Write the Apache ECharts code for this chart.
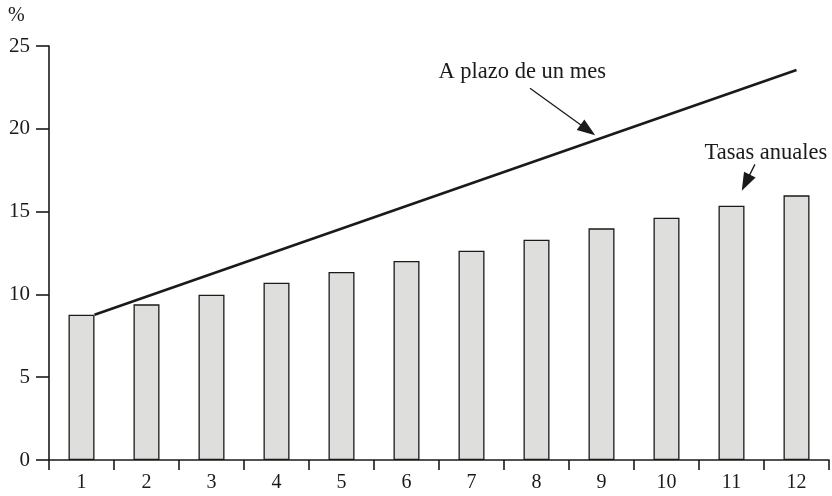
<!DOCTYPE html>
<html>
<head>
<meta charset="utf-8">
<script src="https://cdn.jsdelivr.net/npm/echarts@6/dist/echarts.min.js"></script>
<style>html,body{margin:0;padding:0;background:#fff}#c{width:832px;height:496px}</style>
</head>
<body>
<div id="c"></div>
<script>
const categories = ['1','2','3','4','5','6','7','8','9','10','11','12'];
const annualRates = [8.77, 9.40, 9.98, 10.71, 11.35, 12.02, 12.64, 13.30, 13.99, 14.63, 15.36, 15.98];
// one-month forward line: [x position on category scale, value]
const monthLine = [[0.2, 8.77], [11.0, 23.55]];
const yTicks = { min: 0, max: 25, interval: 5 };
const labelMonth = 'A plazo de un mes';
const labelAnnual = 'Tasas anuales';
const unitLabel = '%';
// annotation anchors in data units [x, y]
const monthText = [6.78, 23.4];
const monthArrow = [[6.9, 22.45], [7.79, 19.93]];
const annualText = [10.53, 18.55];
const annualArrow = [[10.36, 17.85], [10.22, 16.75]];

const FONT = 'Liberation Serif';
const INK = '#1a1a1a';

const chart = echarts.init(document.getElementById('c'), null, {renderer: 'canvas'});
chart.setOption({
  animation: false,
  backgroundColor: '#fff',
  grid: { left: 49, right: 3, top: 46, bottom: 36, containLabel: false },
  xAxis: [
    {
      type: 'category', data: categories, boundaryGap: true,
      axisLine: { lineStyle: { color: INK, width: 1.6 } },
      axisTick: { show: true, length: 10, lineStyle: { color: INK, width: 1.6 } },
      axisLabel: { color: INK, fontFamily: FONT, fontSize: 20, margin: 13 },
      splitLine: { show: false }
    },
    {
      type: 'value', min: -0.5, max: 11.5, show: false
    }
  ],
  yAxis: {
    type: 'value', min: yTicks.min, max: yTicks.max, interval: yTicks.interval,
    axisLine: { show: true, onZero: false, lineStyle: { color: INK, width: 1.6 } },
    axisTick: { show: true, length: 13, lineStyle: { color: INK, width: 1.6 } },
    axisLabel: { color: INK, fontFamily: FONT, fontSize: 21, margin: 19 },
    splitLine: { show: false }
  },
  graphic: [
    { type: 'text', left: 8, top: 6, style: { text: unitLabel, fontFamily: FONT, fontSize: 20, fill: INK } }
  ],
  series: [
    {
      type: 'bar', data: annualRates, barWidth: 26, xAxisIndex: 0,
      itemStyle: { color: '#dededd', borderColor: INK, borderWidth: 1.3 },
      z: 2
    },
    {
      type: 'line', data: monthLine, xAxisIndex: 1, symbol: 'none',
      lineStyle: { color: INK, width: 2.6 }, z: 3,
      markLine: {
        silent: true, symbol: ['none', 'triangle'], symbolSize: [13, 18],
        lineStyle: { color: INK, width: 1.3, type: 'solid' },
        label: { show: false },
        data: [
          [ { coord: monthArrow[0] }, { coord: monthArrow[1] } ],
          [ { coord: annualArrow[0] }, { coord: annualArrow[1] } ]
        ]
      },
      markPoint: {
        silent: true, symbol: 'circle', symbolSize: 0,
        label: { show: true, position: 'inside', color: INK, fontFamily: FONT, fontSize: 22.5 },
        data: [
          { coord: monthText, value: labelMonth, label: { formatter: labelMonth } },
          { coord: annualText, value: labelAnnual, label: { formatter: labelAnnual } }
        ]
      }
    }
  ]
});
</script>
</body>
</html>
